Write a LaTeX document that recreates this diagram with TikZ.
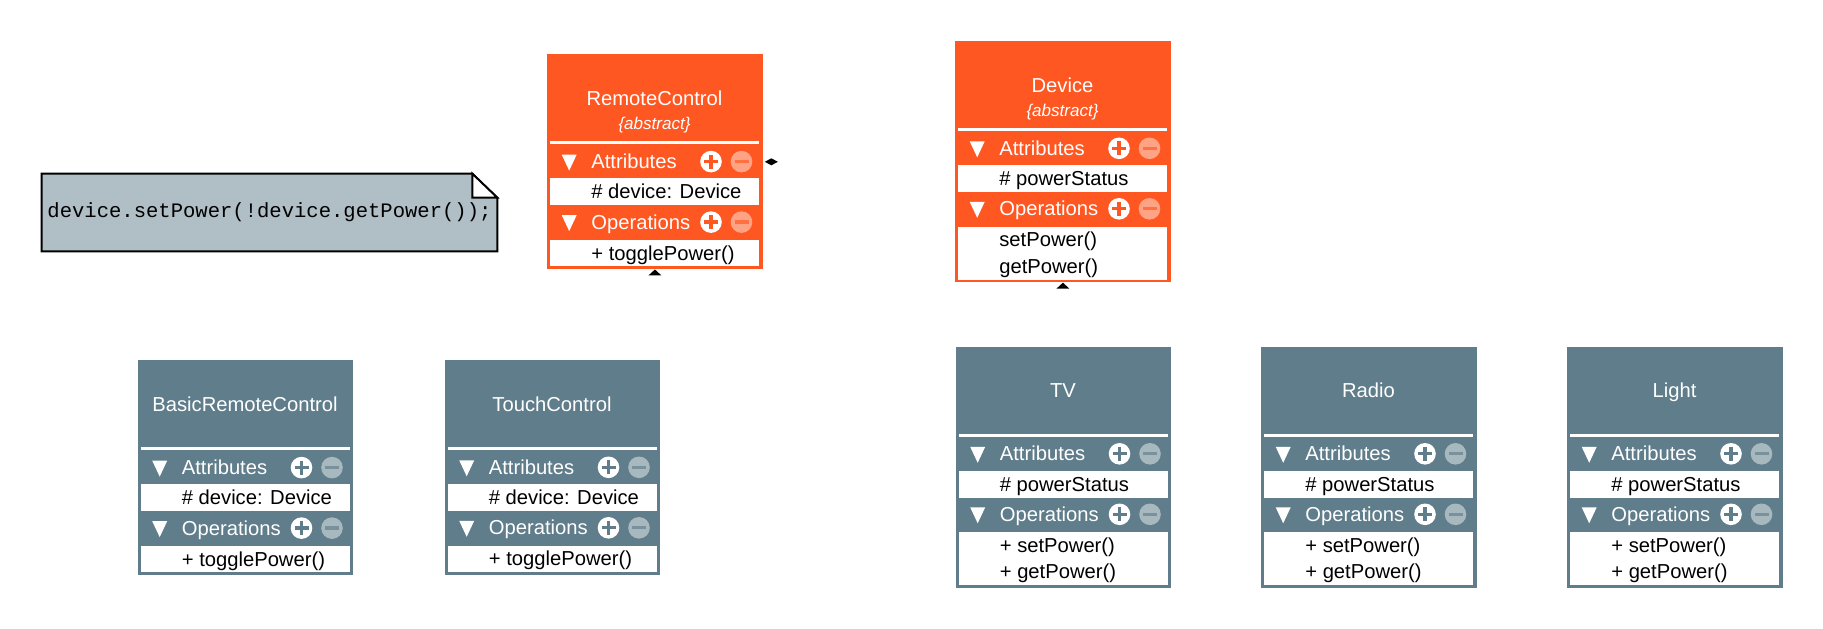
\documentclass[tikz,border=0pt]{standalone}
\usepackage{fontspec}
\setmainfont{Liberation Sans}
\newfontfamily\notefont{Liberation Mono}
\usetikzlibrary{calc, backgrounds}
\definecolor{umlorange}{HTML}{FF5722}
\definecolor{umlgrey}{HTML}{607D8B}
\definecolor{notegrey}{HTML}{B0BEC5}
\tikzset{
  classbox/.style={rectangle, inner sep=0pt, minimum width=4.3cm, line width=0.5pt},
  classtitle/.style={text=white, anchor=base, inner sep=0pt, font=\fontsize{11.5}{14}\selectfont},
  stereo/.style={text=white, anchor=base, inner sep=0pt, font=\fontsize{9.7}{12}\selectfont\itshape},
  sectext/.style={text=white, anchor=base west, inner sep=0pt, font=\fontsize{11.5}{14}\selectfont},
  rowtext/.style={text=black, anchor=base west, inner sep=0pt, font=\fontsize{11.5}{14}\selectfont},
  notebox/.style={minimum width=9.1cm, minimum height=1.54cm, inner sep=0pt, font=\notefont\fontsize{11.7}{14}\selectfont},
  marker/.style={fill=black}
}
% header row of a compartment: y, label, colour
\newcommand{\umlsection}[3]{%
  \fill[white] (14.7,{#1-7}) -- (29.7,{#1-7}) -- (22.2,{#1+9}) -- cycle;
  \node[sectext] at (44,{#1+7}) {#2};
  \fill[white] (164,#1) circle[radius=0.216cm];
  \draw[#3, line width=0.066cm] (157,#1) -- (171,#1) (164,{#1-7}) -- (164,{#1+7});
  \fill[white!45!#3] (194.5,#1) circle[radius=0.216cm];
  \draw[#3!85!white, line width=0.066cm] (187.5,#1) -- (201.5,#1);
}
% class: name, colour, top left, title, stereotype, attribute, rows of operations, operations
\newcommand{\umlclass}[8]{%
  \node[classbox, draw=#2, fill=#2, minimum height={(187+26.5*#7)*0.02cm}, anchor=north west] (#1) at (#3) {};
  \begin{scope}[shift={(#1.north west)}]
    \node[classtitle] (#1-title) at (107.5,51) {#4};
    \node[stereo] (#1-stereo) at (107.5,75) {#5};
    \draw[white, line width=0.06cm] (3,88.5) -- (212,88.5);
    \umlsection{107.3}{Attributes}{#2}
    \fill[white] (3,124) rectangle (212,151);
    \node[rowtext] (#1-attr) at (44,144.5) {#6};
    \umlsection{167.8}{Operations}{#2}
    \fill[white] (3,185.5) rectangle (212,{185.5+26.5*#7});
    \foreach \op [count=\i] in {#8}
      \node[rowtext] at (44,{179.2+26.5*\i}) {\op};
  \end{scope}
}

\begin{document}
\begin{tikzpicture}[x=0.02cm, y=-0.02cm]
  \useasboundingbox (0,0) rectangle (1823,629);

  % note
  \node[notebox] (note) at (269.5,212.5) {device.setPower(!device.getPower());};
  \begin{scope}[on background layer]
    \filldraw[fill=notegrey, draw=black, line width=1.1pt] (note.south west) -- (note.north west) -- ($(note.north east)+(-25,0)$) -- ($(note.north east)+(0,24)$) -- (note.south east) -- cycle;
    \filldraw[fill=white, draw=black, line width=1.1pt] ($(note.north east)+(-25,0)$) -- ($(note.north east)+(-25,24)$) -- ($(note.north east)+(0,24)$) -- cycle;
  \end{scope}

  % abstractions
  \umlclass{rc}{umlorange}{547,54.3}{RemoteControl}{\{abstract\}}{\# device: Device}{1}{+ togglePower()}
  \umlclass{brc}{umlgrey}{137.5,360.3}{BasicRemoteControl}{}{\# device: Device}{1}{+ togglePower()}
  \umlclass{tc}{umlgrey}{444.5,360}{TouchControl}{}{\# device: Device}{1}{+ togglePower()}

  % implementations
  \umlclass{device}{umlorange}{955,41}{Device}{\{abstract\}}{\# powerStatus}{2}{setPower(), getPower()}
  \umlclass{tv}{umlgrey}{955.5,346.5}{TV}{}{\# powerStatus}{2}{+ setPower(), + getPower()}
  \umlclass{radio}{umlgrey}{1261,346.5}{Radio}{}{\# powerStatus}{2}{+ setPower(), + getPower()}
  \umlclass{light}{umlgrey}{1567,346.5}{Light}{}{\# powerStatus}{2}{+ setPower(), + getPower()}

  % connector ends
  \fill[marker] ($(rc.north east)+(2,107.5)$) -- ++(6.5,-3.5) -- ++(6.5,3.5) -- ++(-6.5,3.5) -- cycle;
  \fill[marker] ($(rc.south)+(0,0.8)$) -- ++(6.5,6) -- ++(-13,0) -- cycle;
  \fill[marker] ($(device.south)+(0,0.8)$) -- ++(6.5,6) -- ++(-13,0) -- cycle;
\end{tikzpicture}
\end{document}
